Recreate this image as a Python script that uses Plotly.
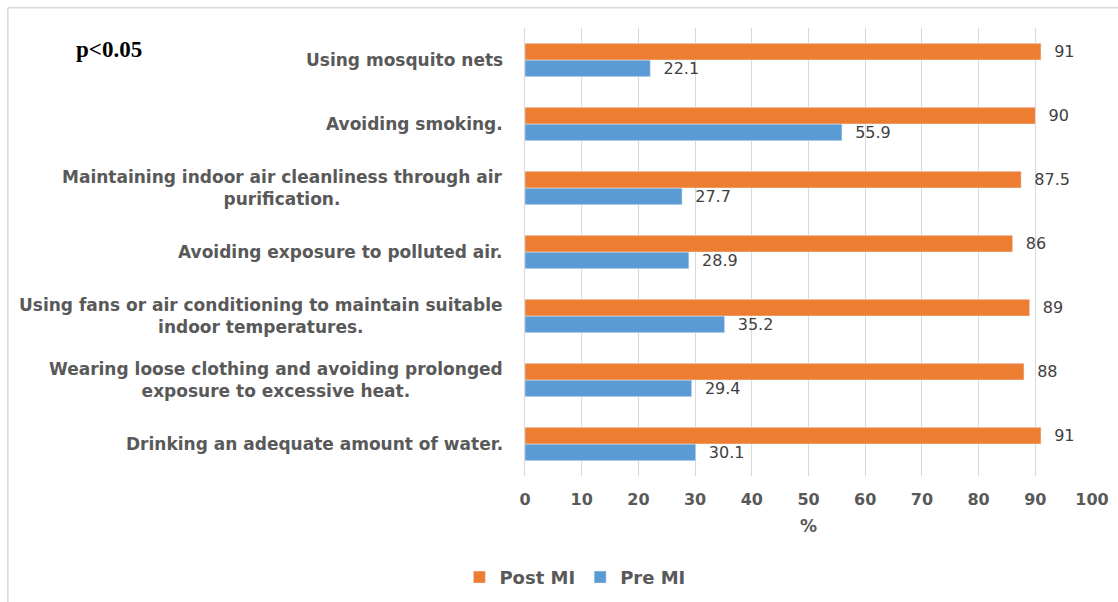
import plotly.graph_objects as go

# Practices, listed bottom-to-top as they appear on the y axis
practices = [
    "Drinking an adequate amount of water.",
    "Wearing loose clothing and avoiding prolonged<br>exposure to excessive heat.",
    "Using fans or air conditioning to maintain suitable<br>indoor temperatures.",
    "Avoiding exposure to polluted air.",
    "Maintaining indoor air cleanliness through air<br>purification.",
    "Avoiding smoking.",
    "Using mosquito nets",
]
pre_mi = [30.1, 29.4, 35.2, 28.9, 27.7, 55.9, 22.1]
post_mi = [91, 88, 89, 86, 87.5, 90, 91]
x_ticks = list(range(0, 101, 10))

GREY = "#595959"
FONT = "DejaVu Sans"
PAD = "\u00a0\u00a0"  # gap between bar end and its value label

fig = go.Figure()
fig.add_trace(go.Bar(
    y=practices, x=pre_mi, name="Pre MI", orientation="h",
    marker=dict(color="#5B9BD5"),
    text=[PAD + f"{v:g}" for v in pre_mi], textposition="outside",
    constraintext="none",
    textfont=dict(family=FONT, size=16, color="#404040"),
    cliponaxis=False, legendrank=2,
))
fig.add_trace(go.Bar(
    y=practices, x=post_mi, name="Post MI", orientation="h",
    marker=dict(color="#ED7D31"),
    text=[PAD + f"{v:g}" for v in post_mi], textposition="outside",
    constraintext="none",
    textfont=dict(family=FONT, size=16, color="#404040"),
    cliponaxis=False, legendrank=1,
))

# Category labels as centred, right-anchored multi-line text
for p in practices:
    fig.add_annotation(
        x=0, xref="paper", y=p, yref="y", xanchor="right", yanchor="middle",
        xshift=-20, text=p, align="center", showarrow=False,
        font=dict(family=FONT, size=17, color=GREY, weight="bold"),
    )

fig.add_annotation(
    x=-0.795, xref="paper", y=0.951, yref="paper", xanchor="left", yanchor="middle",
    text="<b>p<0.05</b>", showarrow=False,
    font=dict(family="Liberation Serif", size=23, color="black"),
)

# Light chart border (left and top edges)
fig.add_shape(type="line", xref="paper", yref="paper",
              x0=-0.912, x1=-0.912, y0=-0.3, y1=1.045,
              line=dict(color="#D9D9D9", width=1.5))
fig.add_shape(type="line", xref="paper", yref="paper",
              x0=-0.912, x1=1.1, y0=1.045, y1=1.045,
              line=dict(color="#D9D9D9", width=1.5))

fig.update_layout(
    width=1118, height=602,
    margin=dict(l=525, r=26, t=28, b=126, autoexpand=False),
    paper_bgcolor="white", plot_bgcolor="white",
    barmode="group", bargap=0.48, bargroupgap=0,
    font=dict(family=FONT, color=GREY),
    legend=dict(
        orientation="h", x=0.088, xanchor="center", y=-0.185, yanchor="top",
        font=dict(family=FONT, size=18, color=GREY, weight="bold"),
        itemwidth=30, traceorder="normal",
    ),
    xaxis=dict(
        range=[0, 100], tickvals=x_ticks, showgrid=True, gridcolor="#D9D9D9",
        gridwidth=1, zeroline=False, showline=False, ticks="",
        automargin=False, ticklabelstandoff=12,
        tickfont=dict(family=FONT, size=16, color=GREY, weight="bold"),
        title=dict(text="%", font=dict(family=FONT, size=17, color=GREY, weight="bold"),
                   standoff=12),
    ),
    yaxis=dict(
        showticklabels=False, showline=True, linecolor="#D9D9D9", linewidth=1,
        ticks="", showgrid=False, automargin=False,
    ),
)

fig.write_html("out.html")
